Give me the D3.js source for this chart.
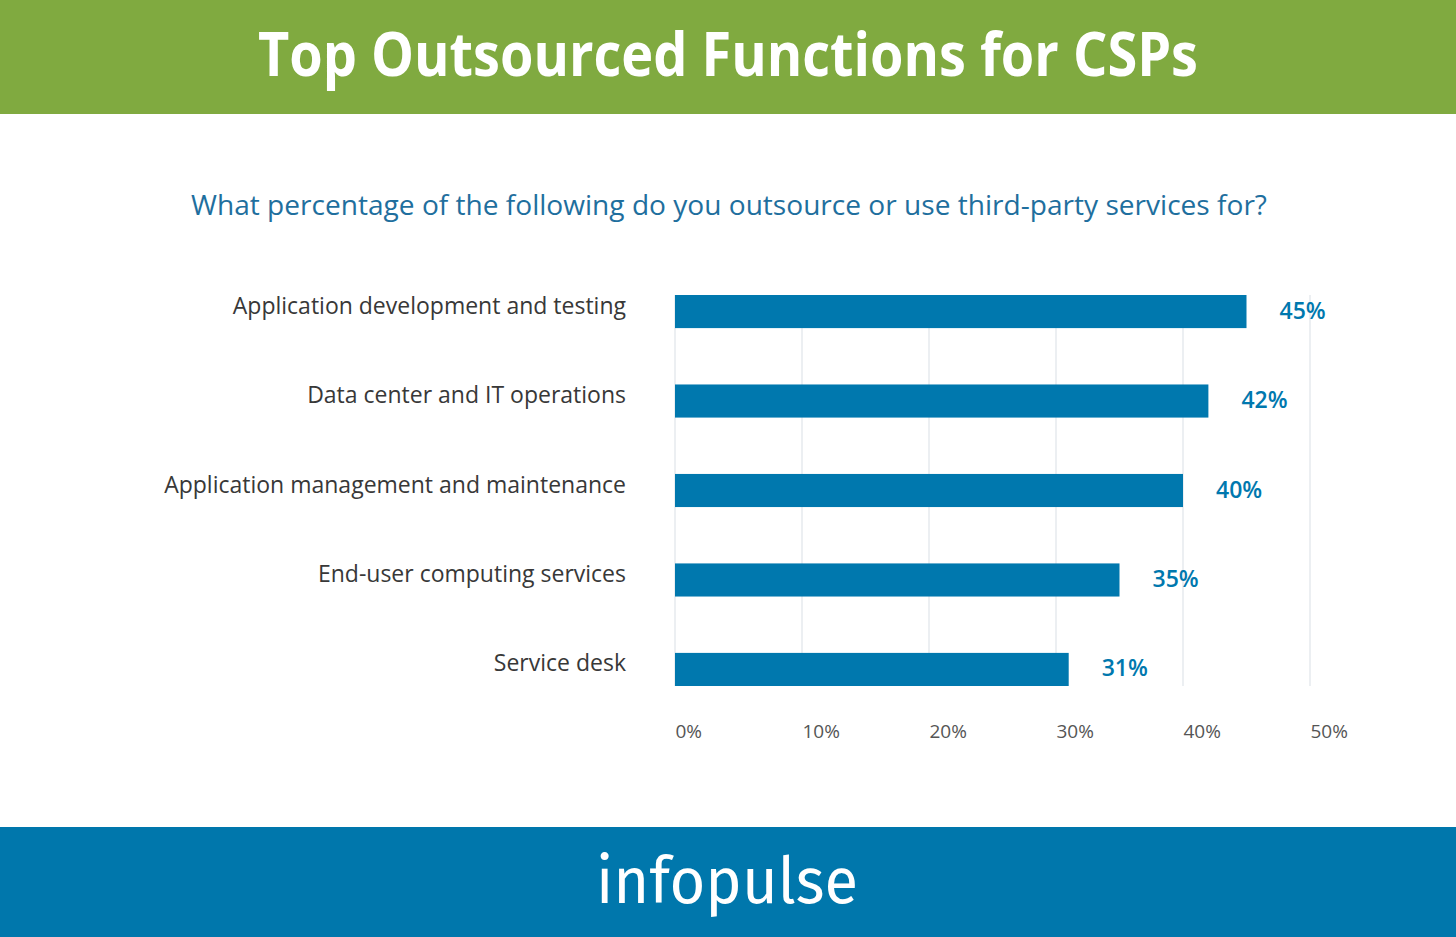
<!DOCTYPE html>
<html>
<head>
<meta charset="utf-8">
<script src="https://cdn.jsdelivr.net/npm/d3@7"></script>
<style>
  html, body { margin: 0; padding: 0; background: #fff; }
  svg { display: block; }
</style>
</head>
<body>
<div id="chart"></div>
<script>
var categories = [
    'Application development and testing',
    'Data center and IT operations',
    'Application management and maintenance',
    'End-user computing services',
    'Service desk'
];
var values = [45, 42, 40, 35, 31];
var tickValues = [0, 10, 20, 30, 40, 50];

var title = 'Top Outsourced Functions for CSPs';
var subtitle = 'What percentage of the following do you outsource or use third-party services for?';
var brand = 'infopulse';

var width = 1456;
var height = 937;
var mainFont = '"Open Sans", sans-serif';
var barColor = '#0078ae';

var svg = d3.select('#chart').append('svg')
    .attr('width', width)
    .attr('height', height);

// header band
svg.append('rect')
    .attr('x', 0).attr('y', 0)
    .attr('width', width).attr('height', 114)
    .style('fill', '#80aa40');

svg.append('text')
    .attr('x', width / 2)
    .attr('y', 76)
    .attr('text-anchor', 'middle')
    .attr('textLength', 940)
    .attr('lengthAdjust', 'spacingAndGlyphs')
    .style('font-family', mainFont)
    .style('font-weight', 700)
    .style('font-size', '60px')
    .style('fill', '#fff')
    .text(title);

svg.append('text')
    .attr('x', width / 2 + 1)
    .attr('y', 215)
    .attr('text-anchor', 'middle')
    .attr('textLength', 1076)
    .attr('lengthAdjust', 'spacingAndGlyphs')
    .style('font-family', mainFont)
    .style('font-size', '27px')
    .style('fill', '#1f6f9e')
    .text(subtitle);

var x = d3.scaleLinear().domain([0, 50]).range([675, 1310]);
var y = d3.scaleBand().domain(categories).range([295, 686])
    .paddingInner(0.63).paddingOuter(0);

// gridlines
svg.append('g')
    .selectAll('line')
    .data(tickValues)
    .join('line')
    .attr('x1', function(d) { return x(d); })
    .attr('x2', function(d) { return x(d); })
    .attr('y1', 295)
    .attr('y2', 686)
    .style('stroke', '#e6eaee')
    .style('stroke-width', 1.5);

// bars
svg.append('g')
    .selectAll('rect')
    .data(values)
    .join('rect')
    .attr('x', x(0))
    .attr('y', function(d, i) { return y(categories[i]); })
    .attr('width', function(d) { return x(d) - x(0); })
    .attr('height', y.bandwidth())
    .style('fill', barColor);

// category labels
svg.append('g')
    .selectAll('text')
    .data(categories)
    .join('text')
    .attr('x', 626)
    .attr('y', function(d) { return y(d) + y.bandwidth() / 2 + 2; })
    .attr('text-anchor', 'end')
    .style('font-family', mainFont)
    .style('font-size', '23px')
    .style('fill', '#383838')
    .text(function(d) { return d; });

// value labels
svg.append('g')
    .selectAll('text')
    .data(values)
    .join('text')
    .attr('x', function(d) { return x(d) + 33; })
    .attr('y', function(d, i) { return y(categories[i]) + y.bandwidth() / 2 + 7; })
    .style('font-family', mainFont)
    .style('font-weight', 600)
    .style('font-size', '23px')
    .style('fill', barColor)
    .text(function(d) { return d + '%'; });

// x axis
var axis = d3.axisBottom(x)
    .tickValues(tickValues)
    .tickSize(0)
    .tickFormat(function(d) { return d + '%'; });

var axisG = svg.append('g')
    .attr('transform', 'translate(0,720)')
    .call(axis);
axisG.select('.domain').remove();
axisG.selectAll('text')
    .attr('text-anchor', 'start')
    .attr('dy', 0)
    .attr('y', 18)
    .style('font-family', mainFont)
    .style('font-size', '19px')
    .style('fill', '#555');

// footer band
svg.append('rect')
    .attr('x', 0).attr('y', 827)
    .attr('width', width).attr('height', height - 827)
    .style('fill', '#0077ac');

svg.append('text')
    .attr('x', 727)
    .attr('y', 903)
    .attr('text-anchor', 'middle')
    .attr('textLength', 262)
    .attr('lengthAdjust', 'spacingAndGlyphs')
    .style('font-family', '"Fira Sans", "Open Sans", sans-serif')
    .style('font-size', '64px')
    .style('fill', '#fff')
    .text(brand);
</script>
</body>
</html>
